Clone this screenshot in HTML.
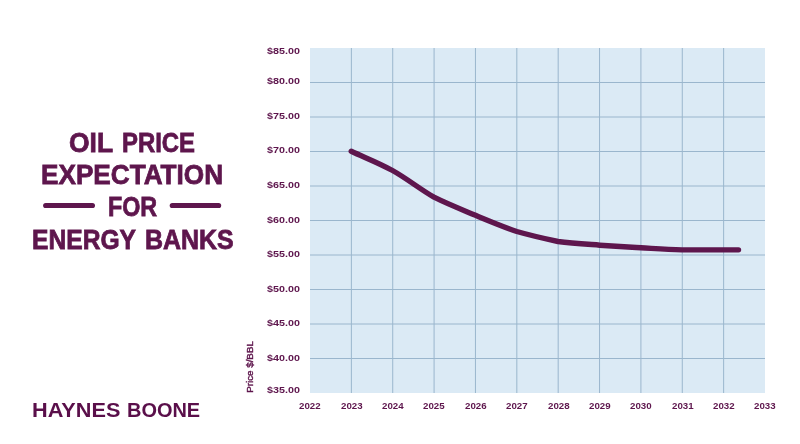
<!DOCTYPE html>
<html><head><meta charset="utf-8"><title>Oil Price Expectation for Energy Banks</title>
<style>
html,body{margin:0;padding:0;background:#fff;}
body{width:800px;height:444px;position:relative;overflow:hidden;font-family:"Liberation Sans",sans-serif;color:#5e164d;}
.w{position:absolute;display:block;white-space:nowrap;transform-origin:0 0;line-height:1;}
.tt{font-size:27.5px;font-weight:bold;-webkit-text-stroke:0.8px #5e164d;}
.lg{font-size:19.6px;font-weight:bold;color:#5a0f4a}
.yl{font-size:9.7px;font-weight:bold;}
.xl{font-size:9.6px;font-weight:bold;}
#yt{position:absolute;left:250px;top:393px;font-size:9.3px;line-height:12px;height:12px;white-space:nowrap;transform-origin:0 0;transform:rotate(-90deg) translate(0.2px,-6.1px) scaleX(1.052);-webkit-text-stroke:0.4px #5e164d;}
</style></head><body>
<svg width="800" height="444" viewBox="0 0 800 444" style="position:absolute;left:0;top:0">
<rect x="310" y="48" width="455" height="345" fill="#dbeaf5"/>
<line x1="351.36" y1="48" x2="351.36" y2="393" stroke="#9ab6cd" stroke-width="1"/>
<line x1="392.73" y1="48" x2="392.73" y2="393" stroke="#9ab6cd" stroke-width="1"/>
<line x1="434.09" y1="48" x2="434.09" y2="393" stroke="#9ab6cd" stroke-width="1"/>
<line x1="475.45" y1="48" x2="475.45" y2="393" stroke="#9ab6cd" stroke-width="1"/>
<line x1="516.82" y1="48" x2="516.82" y2="393" stroke="#9ab6cd" stroke-width="1"/>
<line x1="558.18" y1="48" x2="558.18" y2="393" stroke="#9ab6cd" stroke-width="1"/>
<line x1="599.55" y1="48" x2="599.55" y2="393" stroke="#9ab6cd" stroke-width="1"/>
<line x1="640.91" y1="48" x2="640.91" y2="393" stroke="#9ab6cd" stroke-width="1"/>
<line x1="682.27" y1="48" x2="682.27" y2="393" stroke="#9ab6cd" stroke-width="1"/>
<line x1="723.64" y1="48" x2="723.64" y2="393" stroke="#9ab6cd" stroke-width="1"/>
<line x1="310" y1="82.50" x2="765" y2="82.50" stroke="#9ab6cd" stroke-width="1"/>
<line x1="310" y1="117.00" x2="765" y2="117.00" stroke="#9ab6cd" stroke-width="1"/>
<line x1="310" y1="151.50" x2="765" y2="151.50" stroke="#9ab6cd" stroke-width="1"/>
<line x1="310" y1="186.00" x2="765" y2="186.00" stroke="#9ab6cd" stroke-width="1"/>
<line x1="310" y1="220.50" x2="765" y2="220.50" stroke="#9ab6cd" stroke-width="1"/>
<line x1="310" y1="255.00" x2="765" y2="255.00" stroke="#9ab6cd" stroke-width="1"/>
<line x1="310" y1="289.50" x2="765" y2="289.50" stroke="#9ab6cd" stroke-width="1"/>
<line x1="310" y1="324.00" x2="765" y2="324.00" stroke="#9ab6cd" stroke-width="1"/>
<line x1="310" y1="358.50" x2="765" y2="358.50" stroke="#9ab6cd" stroke-width="1"/>
<path d="M351.25,151.25 C365.00,157.67 378.71,162.84 392.5,170.5 C406.29,178.16 420.17,189.23 434,197.2 C447.83,204.16 461.70,209.55 475.5,215.3 C489.30,220.99 503.04,226.72 516.8,231.5 C530.54,235.45 544.23,238.53 558,241.5 C571.88,243.10 585.88,244.08 599.75,245.2 C613.55,246.16 627.27,246.94 641,247.75 C654.69,248.50 667.04,249.32 682,249.85 C699.54,250.03 719.67,249.85 738.5,249.85" fill="none" stroke="#5e164d" stroke-width="5.4" stroke-linecap="round" stroke-linejoin="round"/>
<line x1="45.7" y1="205.5" x2="92.4" y2="205.5" stroke="#5e164d" stroke-width="5.2" stroke-linecap="round"/>
<line x1="172.3" y1="205.5" x2="218.6" y2="205.5" stroke="#5e164d" stroke-width="5.2" stroke-linecap="round"/>
</svg>
<span class="w tt" id="w_oil" style="left:69.30px;top:129.21px;transform:scaleX(0.9615)">OIL</span>
<span class="w tt" id="w_price" style="left:121.68px;top:129.21px;transform:scaleX(0.8687)">PRICE</span>
<span class="w tt" id="w_exp" style="left:41.49px;top:160.97px;transform:scaleX(0.9507)">EXPECTATION</span>
<span class="w tt" id="w_for" style="left:107.96px;top:193.42px;transform:scaleX(0.8477)">FOR</span>
<span class="w tt" id="w_energy" style="left:32.06px;top:225.75px;transform:scaleX(0.8954)">ENERGY</span>
<span class="w tt" id="w_banks" style="left:144.73px;top:225.75px;transform:scaleX(0.9079)">BANKS</span>
<span class="w lg" id="w_haynes" style="left:32.20px;top:401.13px;transform:scaleX(1.1078)">HAYNES</span>
<span class="w lg" id="w_boone" style="left:127.20px;top:401.13px;transform:scaleX(1.0182)">BOONE</span>
<span class="w yl" id="y0" style="left:267.30px;top:46.45px;transform:scaleX(1.1090)">$85.00</span>
<span class="w yl" id="y1" style="left:267.30px;top:75.61px;transform:scaleX(1.1090)">$80.00</span>
<span class="w yl" id="y2" style="left:267.30px;top:110.55px;transform:scaleX(1.1090)">$75.00</span>
<span class="w yl" id="y3" style="left:267.30px;top:145.03px;transform:scaleX(1.1090)">$70.00</span>
<span class="w yl" id="y4" style="left:267.30px;top:179.65px;transform:scaleX(1.1090)">$65.00</span>
<span class="w yl" id="y5" style="left:267.30px;top:214.88px;transform:scaleX(1.1090)">$60.00</span>
<span class="w yl" id="y6" style="left:267.30px;top:249.44px;transform:scaleX(1.1090)">$55.00</span>
<span class="w yl" id="y7" style="left:267.30px;top:283.72px;transform:scaleX(1.1090)">$50.00</span>
<span class="w yl" id="y8" style="left:267.30px;top:318.45px;transform:scaleX(1.1090)">$45.00</span>
<span class="w yl" id="y9" style="left:267.30px;top:352.62px;transform:scaleX(1.1090)">$40.00</span>
<span class="w yl" id="y10" style="left:267.30px;top:384.82px;transform:scaleX(1.1090)">$35.00</span>
<span class="w xl" id="x0" style="left:299.14px;top:401.30px;transform:scaleX(1.0120)">2022</span>
<span class="w xl" id="x1" style="left:340.89px;top:401.30px;transform:scaleX(1.0120)">2023</span>
<span class="w xl" id="x2" style="left:382.46px;top:401.30px;transform:scaleX(1.0120)">2024</span>
<span class="w xl" id="x3" style="left:423.33px;top:401.30px;transform:scaleX(1.0120)">2025</span>
<span class="w xl" id="x4" style="left:465.07px;top:401.30px;transform:scaleX(1.0120)">2026</span>
<span class="w xl" id="x5" style="left:506.20px;top:401.30px;transform:scaleX(1.0120)">2027</span>
<span class="w xl" id="x6" style="left:547.86px;top:401.30px;transform:scaleX(1.0120)">2028</span>
<span class="w xl" id="x7" style="left:588.91px;top:401.30px;transform:scaleX(1.0120)">2029</span>
<span class="w xl" id="x8" style="left:630.21px;top:401.30px;transform:scaleX(1.0120)">2030</span>
<span class="w xl" id="x9" style="left:671.59px;top:401.30px;transform:scaleX(1.0120)">2031</span>
<span class="w xl" id="x10" style="left:713.44px;top:401.30px;transform:scaleX(1.0120)">2032</span>
<span class="w xl" id="x11" style="left:754.18px;top:401.30px;transform:scaleX(1.0120)">2033</span>
<div id="yt">Price $/BBL</div>
</body></html>
